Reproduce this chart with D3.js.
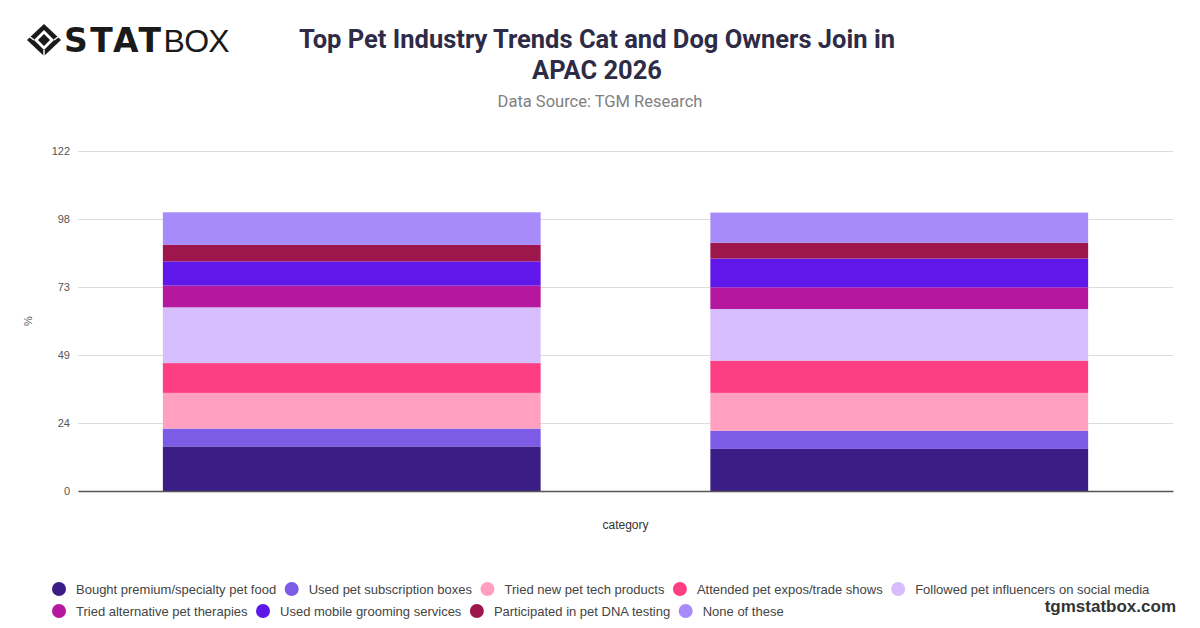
<!DOCTYPE html>
<html>
<head>
<meta charset="utf-8">
<script src="https://cdn.jsdelivr.net/npm/d3@7"></script>
<style>
  body { margin:0; background:#fff; }
  svg { display:block; }
</style>
</head>
<body>
<div class="chart"></div>
<script>
// 数据
var categories = ["Cat Owners", "Dog Owners"];
var seriesNames = [
  "Bought premium/specialty pet food",
  "Used pet subscription boxes",
  "Tried new pet tech products",
  "Attended pet expos/trade shows",
  "Followed pet influencers on social media",
  "Tried alternative pet therapies",
  "Used mobile grooming services",
  "Participated in pet DNA testing",
  "None of these"
];
var catValues = [16.0, 6.4, 12.8, 10.7, 20.0, 7.8, 8.7, 5.9, 11.7];
var dogValues = [15.1, 6.5, 13.6, 11.6, 18.5, 7.8, 10.3, 5.7, 10.8];
var seriesColors = ["#3b1e85", "#7c5ce6", "#ffa0c0", "#fe3e82", "#d6bdfb", "#b5179e", "#5f17ea", "#9d174d", "#a78bfa"];
var yMax = 122;
var yTicks = [0, 24.4, 48.8, 73.2, 97.6, 122];

var W = 1200, H = 628;
var margin = {left:78, right:27, top:151, bottom:137};

var svg = d3.select(".chart").append("svg")
  .attr("width", W)
  .attr("height", H);

// 表格行
var rows = categories.map(function(c, i){
  var r = {category:c};
  var vals = i == 0 ? catValues : dogValues;
  seriesNames.forEach(function(s, j){ r[s] = vals[j]; });
  return r;
});
var stacked = d3.stack().keys(seriesNames)(rows);

var x = d3.scaleBand()
  .domain(categories)
  .range([margin.left, W - margin.right])
  .paddingInner(0.31)
  .paddingOuter(0.155);

var y = d3.scaleLinear()
  .domain([0, yMax])
  .range([H - margin.bottom, margin.top]);

// 网格
svg.append("g")
  .attr("transform", "translate(" + margin.left + ",0)")
  .call(d3.axisLeft(y).tickValues(yTicks)
    .tickSize(-(W - margin.left - margin.right))
    .tickFormat(function(d){ return Math.round(d); }))
  .each(function(){
    var g = d3.select(this);
    g.select(".domain").remove();
    g.selectAll(".tick line").attr("stroke", "#dcdcdc").attr("stroke-width", 1);
    g.selectAll(".tick text")
      .attr("x", -8)
      .attr("fill", "#555")
      .style("font", "11px 'Liberation Sans', Arial, sans-serif");
  });

// 柱
svg.append("g").selectAll("g")
  .data(stacked)
  .join("g")
  .attr("fill", function(d, i){ return seriesColors[i]; })
  .selectAll("rect")
  .data(function(d){ return d; })
  .join("rect")
  .attr("x", function(d){ return x(d.data.category); })
  .attr("width", x.bandwidth())
  .attr("y", function(d){ return y(d[1]); })
  .attr("height", function(d){ return y(d[0]) - y(d[1]); });

// x 轴
svg.append("g")
  .attr("transform", "translate(0," + y(0) + ")")
  .call(d3.axisBottom(x).tickSize(0).tickFormat(""))
  .each(function(){
    d3.select(this).select(".domain").attr("stroke", "#555").attr("stroke-width", 1.5);
  });

svg.append("text")
  .attr("x", (margin.left + W - margin.right) / 2)
  .attr("y", 529)
  .attr("text-anchor", "middle")
  .attr("fill", "#333")
  .style("font", "12px 'Liberation Sans', Arial, sans-serif")
  .text("category");

svg.append("text")
  .attr("transform", "translate(32,321) rotate(-90)")
  .attr("text-anchor", "middle")
  .attr("fill", "#555")
  .style("font", "11px 'Liberation Sans', Arial, sans-serif")
  .text("%");

// 标题
var title = svg.append("text")
  .attr("text-anchor", "middle")
  .attr("fill", "#2e2b47")
  .style("font", "bold 25.5px Roboto, 'Liberation Sans', sans-serif");
title.append("tspan").attr("x", 597).attr("y", 48).text("Top Pet Industry Trends Cat and Dog Owners Join in");
title.append("tspan").attr("x", 597).attr("y", 79).text("APAC 2026");

svg.append("text")
  .attr("x", 600)
  .attr("y", 107)
  .attr("text-anchor", "middle")
  .attr("fill", "#808080")
  .style("font", "16.5px Roboto, 'Liberation Sans', sans-serif")
  .text("Data Source: TGM Research");

// logo
svg.append("g")
  .attr("transform", "translate(44,40)")
  .each(function(){
    var g = d3.select(this);
    g.append("path").attr("d", "M0,-16 L17,0 L0,16 L-17,0 Z").attr("fill", "#1a1a1a");
    g.append("path").attr("d", "M0,-10 L10,0 L0,10 L-10,0 Z").attr("fill", "#fff");
    g.append("path").attr("d", "M0,-6 L6,0 L0,6 L-6,0 Z").attr("fill", "#1a1a1a");
    g.append("path").attr("d", "M-14,-3 L-10,0 M14,-3 L10,0 M0,10 L0,16").attr("stroke", "#fff").attr("stroke-width", 1.5);
  });
var logo = svg.append("text")
  .attr("x", 64)
  .attr("y", 52)
  .attr("fill", "#1a1a1a")
  .style("font-family", "'DejaVu Sans', sans-serif");
logo.append("tspan").style("font-weight", "900").style("font-size", "33px").attr("textLength", 97).text("STAT");
logo.append("tspan").style("font-weight", "200").style("font-size", "32px").attr("textLength", 66).style("font-family", "'Liberation Sans', sans-serif").text("BOX");

// 图例
var legendRows = [[0, 1, 2, 3, 4], [5, 6, 7, 8]];
var legendY = [589, 611];
legendRows.forEach(function(idx, r){
  var cx = 52;
  idx.forEach(function(i){
    var g = svg.append("g").attr("transform", "translate(" + cx + "," + legendY[r] + ")");
    g.append("circle").attr("cx", 7).attr("cy", 0).attr("r", 7).attr("fill", seriesColors[i]);
    var t = g.append("text")
      .attr("x", 24)
      .attr("y", 4.5)
      .attr("fill", "#444")
      .style("font", "13px 'Liberation Sans', Arial, sans-serif")
      .text(seriesNames[i]);
    cx += 24 + t.node().getComputedTextLength() + 8.5;
  });
});

svg.append("text")
  .attr("x", 1176)
  .attr("y", 612)
  .attr("text-anchor", "end")
  .attr("fill", "#333")
  .style("font", "bold 17px 'Liberation Sans', Arial, sans-serif")
  .text("tgmstatbox.com");
</script>
</body>
</html>
